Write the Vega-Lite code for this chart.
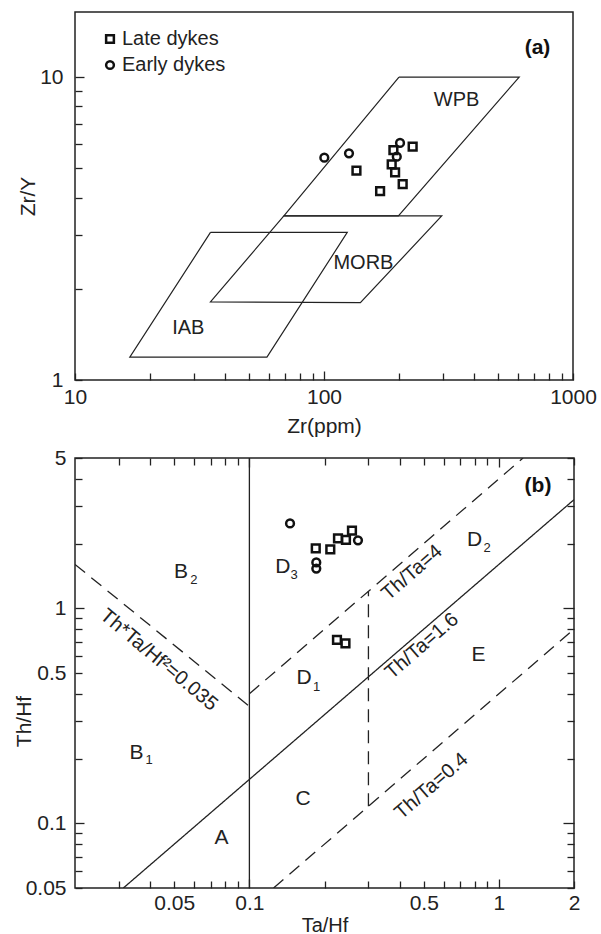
{
  "$schema": "https://vega.github.io/schema/vega-lite/v6.json",
  "background": "white",
  "padding": {"left": 12, "top": 11, "right": 0, "bottom": 0},
  "autosize": {"type": "pad"},
  "spacing": 9,
  "config": {
    "font": "Liberation Sans",
    "view": {"stroke": "#222", "strokeWidth": 1.5},
    "axis": {
      "domain": false,
      "grid": false,
      "tickColor": "#222",
      "tickWidth": 1.3,
      "tickSize": 7,
      "labelFont": "Liberation Sans",
      "labelFontSize": 21,
      "labelColor": "#222",
      "labelPadding": 8,
      "labelOverlap": false,
      "labelFlush": false,
      "titleFont": "Liberation Sans",
      "titleFontSize": 21,
      "titleFontWeight": "normal",
      "titleColor": "#222"
    },
    "text": {"font": "Liberation Sans", "color": "#222"}
  },
  "resolve": {"scale": {"shape": "independent"}, "legend": {"shape": "independent"}},
  "datasets": {
    "fieldsA": [
      {"field": "WPB", "vertex": 1, "Zr": 200, "ZrY": 10},
      {"field": "WPB", "vertex": 2, "Zr": 608, "ZrY": 10},
      {"field": "WPB", "vertex": 3, "Zr": 199, "ZrY": 3.48},
      {"field": "WPB", "vertex": 4, "Zr": 69, "ZrY": 3.48},
      {"field": "WPB", "vertex": 5, "Zr": 200, "ZrY": 10},
      {"field": "MORB", "vertex": 1, "Zr": 69, "ZrY": 3.48},
      {"field": "MORB", "vertex": 2, "Zr": 297, "ZrY": 3.48},
      {"field": "MORB", "vertex": 3, "Zr": 140, "ZrY": 1.8},
      {"field": "MORB", "vertex": 4, "Zr": 35, "ZrY": 1.81},
      {"field": "MORB", "vertex": 5, "Zr": 69, "ZrY": 3.48},
      {"field": "IAB", "vertex": 1, "Zr": 35, "ZrY": 3.07},
      {"field": "IAB", "vertex": 2, "Zr": 124, "ZrY": 3.07},
      {"field": "IAB", "vertex": 3, "Zr": 59, "ZrY": 1.19},
      {"field": "IAB", "vertex": 4, "Zr": 16.6, "ZrY": 1.19},
      {"field": "IAB", "vertex": 5, "Zr": 35, "ZrY": 3.07}
    ],
    "fieldLabelsA": [
      {"label": "WPB", "Zr": 341, "ZrY": 8.42},
      {"label": "MORB", "Zr": 144, "ZrY": 2.44},
      {"label": "IAB", "Zr": 28.5, "ZrY": 1.49}
    ],
    "tagA": [{"label": "(a)", "Zr": 720, "ZrY": 12.5}],
    "pointsA": [
      {"group": "Early dykes", "Zr": 100.3, "ZrY": 5.42},
      {"group": "Early dykes", "Zr": 126, "ZrY": 5.6},
      {"group": "Early dykes", "Zr": 202, "ZrY": 6.06},
      {"group": "Early dykes", "Zr": 196, "ZrY": 5.46},
      {"group": "Late dykes", "Zr": 190, "ZrY": 5.74},
      {"group": "Late dykes", "Zr": 227, "ZrY": 5.89},
      {"group": "Late dykes", "Zr": 135, "ZrY": 4.91},
      {"group": "Late dykes", "Zr": 187, "ZrY": 5.15},
      {"group": "Late dykes", "Zr": 193, "ZrY": 4.85},
      {"group": "Late dykes", "Zr": 207, "ZrY": 4.43},
      {"group": "Late dykes", "Zr": 168, "ZrY": 4.2}
    ],
    "linesB": [
      {"line": "Ta/Hf=0.1", "style": "solid", "vertex": 1, "TaHf": 0.1, "ThHf": 0.05},
      {"line": "Ta/Hf=0.1", "style": "solid", "vertex": 2, "TaHf": 0.1, "ThHf": 5},
      {"line": "Th/Ta=1.6", "style": "solid", "vertex": 1, "TaHf": 0.03125, "ThHf": 0.05},
      {"line": "Th/Ta=1.6", "style": "solid", "vertex": 2, "TaHf": 2, "ThHf": 3.2},
      {"line": "Th/Ta=4", "style": "dashed", "vertex": 1, "TaHf": 0.1, "ThHf": 0.4},
      {"line": "Th/Ta=4", "style": "dashed", "vertex": 2, "TaHf": 1.25, "ThHf": 5},
      {"line": "Th/Ta=0.4", "style": "dashed", "vertex": 1, "TaHf": 0.125, "ThHf": 0.05},
      {"line": "Th/Ta=0.4", "style": "dashed", "vertex": 2, "TaHf": 2, "ThHf": 0.8},
      {"line": "Ta/Hf=0.3", "style": "dashed", "vertex": 1, "TaHf": 0.3, "ThHf": 0.12},
      {"line": "Ta/Hf=0.3", "style": "dashed", "vertex": 2, "TaHf": 0.3, "ThHf": 1.2},
      {"line": "ThTa/Hf2=0.035", "style": "dashed", "vertex": 1, "TaHf": 0.02, "ThHf": 1.6},
      {"line": "ThTa/Hf2=0.035", "style": "dashed", "vertex": 2, "TaHf": 0.1, "ThHf": 0.35}
    ],
    "regionsB": [
      {"label": "B", "TaHf": 0.0532, "ThHf": 1.48},
      {"label": "D", "TaHf": 0.1363, "ThHf": 1.561},
      {"label": "D", "TaHf": 0.799, "ThHf": 2.071},
      {"label": "D", "TaHf": 0.1655, "ThHf": 0.474},
      {"label": "B", "TaHf": 0.0353, "ThHf": 0.213},
      {"label": "E", "TaHf": 0.8275, "ThHf": 0.6063},
      {"label": "C", "TaHf": 0.164, "ThHf": 0.13},
      {"label": "A", "TaHf": 0.0773, "ThHf": 0.0852}
    ],
    "subsB": [
      {"label": "2", "TaHf": 0.0599, "ThHf": 1.35},
      {"label": "3", "TaHf": 0.151, "ThHf": 1.428},
      {"label": "2", "TaHf": 0.896, "ThHf": 1.913},
      {"label": "1", "TaHf": 0.186, "ThHf": 0.4317},
      {"label": "1", "TaHf": 0.0396, "ThHf": 0.197}
    ],
    "ratioLabelsB": [
      {"label": "Th/Ta=4", "TaHf": 0.4484, "ThHf": 1.464},
      {"label": "Th/Ta=1.6", "TaHf": 0.491, "ThHf": 0.668},
      {"label": "Th/Ta=0.4", "TaHf": 0.5364, "ThHf": 0.149}
    ],
    "productLabelB": [
      {"label": "Th*Ta/Hf²=0.035", "TaHf": 0.0434, "ThHf": 0.575}
    ],
    "tagB": [{"label": "(b)", "TaHf": 1.435, "ThHf": 3.706}],
    "pointsB": [
      {"group": "Early dykes", "TaHf": 0.1455, "ThHf": 2.48},
      {"group": "Early dykes", "TaHf": 0.2724, "ThHf": 2.071},
      {"group": "Early dykes", "TaHf": 0.1854, "ThHf": 1.633},
      {"group": "Early dykes", "TaHf": 0.1854, "ThHf": 1.531},
      {"group": "Late dykes", "TaHf": 0.1845, "ThHf": 1.897},
      {"group": "Late dykes", "TaHf": 0.211, "ThHf": 1.88},
      {"group": "Late dykes", "TaHf": 0.2265, "ThHf": 2.116},
      {"group": "Late dykes", "TaHf": 0.2438, "ThHf": 2.078},
      {"group": "Late dykes", "TaHf": 0.2577, "ThHf": 2.298},
      {"group": "Late dykes", "TaHf": 0.2244, "ThHf": 0.712},
      {"group": "Late dykes", "TaHf": 0.2427, "ThHf": 0.687}
    ]
  },
  "vconcat": [
    {
      "width": 498,
      "height": 368,
      "resolve": {"axis": {"x": "independent", "y": "independent"}},
      "layer": [
        {
          "data": {"name": "fieldsA"},
          "mark": {"type": "line", "color": "#222", "strokeWidth": 1.2, "clip": true},
          "encoding": {
            "x": {
              "field": "Zr", "type": "quantitative",
              "scale": {"type": "log", "domain": [10, 1000], "nice": false},
              "axis": {
                "title": "Zr(ppm)",
                "values": [10, 100, 1000],
                "format": "~g",
                "ticks": false,
                "labelPadding": 6,
                "titlePadding": 8
              }
            },
            "y": {
              "field": "ZrY", "type": "quantitative",
              "scale": {"type": "log", "domain": [1, 16.4], "nice": false},
              "axis": {
                "title": "Zr/Y",
                "values": [1, 10],
                "format": "~g",
                "ticks": false,
                "labelPadding": 12,
                "titlePadding": 1
              }
            },
            "detail": {"field": "field"},
            "order": {"field": "vertex", "type": "quantitative"}
          }
        },
        {
          "data": {"name": "fieldLabelsA"},
          "mark": {"type": "text", "fontSize": 20, "align": "center", "baseline": "middle", "color": "#222"},
          "encoding": {
            "x": {
              "field": "Zr", "type": "quantitative",
              "axis": {
                "orient": "top", "offset": -368, "title": null, "labels": false,
                "values": [10, 20, 30, 40, 50, 60, 70, 80, 90, 100, 200, 300, 400, 500, 600, 700, 800, 900, 1000],
                "tickSize": {"condition": {"test": "datum.value == 100", "value": 9}, "value": 7}
              }
            },
            "y": {
              "field": "ZrY", "type": "quantitative",
              "axis": {
                "orient": "right", "offset": -498, "title": null, "labels": false,
                "values": [1, 2, 3, 4, 5, 6, 7, 8, 9, 10],
                "tickSize": {"condition": {"test": "datum.value == 10", "value": 9}, "value": 7}
              }
            },
            "text": {"field": "label"}
          }
        },
        {
          "data": {"name": "tagA"},
          "mark": {"type": "text", "fontSize": 21, "fontWeight": "bold", "align": "center", "baseline": "middle", "color": "#111"},
          "encoding": {
            "x": {"field": "Zr", "type": "quantitative", "axis": null},
            "y": {"field": "ZrY", "type": "quantitative", "axis": null},
            "text": {"field": "label"}
          }
        },
        {
          "data": {"name": "pointsA"},
          "mark": {"type": "point", "filled": false, "color": "#111", "strokeWidth": 2.5, "size": 60, "opacity": 1},
          "encoding": {
            "x": {"field": "Zr", "type": "quantitative", "axis": null},
            "y": {"field": "ZrY", "type": "quantitative", "axis": null},
            "shape": {
              "field": "group", "type": "nominal",
              "scale": {"domain": ["Late dykes", "Early dykes"], "range": ["square", "circle"]},
              "legend": {
                "title": null,
                "orient": "none",
                "legendX": 25,
                "legendY": 17,
                "labelFontSize": 20,
                "labelColor": "#222",
                "labelFont": "Liberation Sans",
                "labelOffset": 2,
                "rowPadding": 6,
                "symbolSize": 60,
                "symbolStrokeWidth": 2.5,
                "symbolStrokeColor": "#111",
                "symbolFillColor": "white",
                "padding": 0
              }
            }
          }
        }
      ]
    },
    {
      "width": 499,
      "height": 430,
      "resolve": {"axis": {"x": "independent", "y": "independent"}},
      "layer": [
        {
          "data": {"name": "linesB"},
          "mark": {"type": "line", "color": "#222", "strokeWidth": 1.3, "clip": true},
          "encoding": {
            "x": {
              "field": "TaHf", "type": "quantitative",
              "scale": {"type": "log", "domain": [0.02, 2], "nice": false},
              "axis": {
                "title": "Ta/Hf",
                "titleFontSize": 20,
                "values": [0.05, 0.1, 0.5, 1, 2],
                "format": "~g",
                "ticks": false,
                "labelPadding": 4,
                "titlePadding": 2
              }
            },
            "y": {
              "field": "ThHf", "type": "quantitative",
              "scale": {"type": "log", "domain": [0.05, 5], "nice": false},
              "axis": {
                "title": "Th/Hf",
                "values": [0.05, 0.1, 0.5, 1, 5],
                "format": "~g",
                "ticks": false,
                "labelPadding": 9,
                "titlePadding": -9,
                "titleY": 263
              }
            },
            "detail": {"field": "line"},
            "order": {"field": "vertex", "type": "quantitative"},
            "strokeDash": {
              "field": "style", "type": "nominal",
              "scale": {"domain": ["solid", "dashed"], "range": [[1, 0], [13, 8]]},
              "legend": null
            }
          }
        },
        {
          "data": {"name": "regionsB"},
          "mark": {"type": "text", "fontSize": 21, "align": "center", "baseline": "middle", "color": "#222"},
          "encoding": {
            "x": {
              "field": "TaHf", "type": "quantitative",
              "axis": {
                "orient": "top", "offset": -430, "title": null, "labels": false,
                "values": [0.03, 0.04, 0.05, 0.06, 0.07, 0.08, 0.09, 0.1, 0.2, 0.3, 0.4, 0.5, 0.6, 0.7, 0.8, 0.9, 1, 2],
                "tickSize": {"condition": {"test": "datum.value == 0.1 || datum.value == 1", "value": 9}, "value": 7}
              }
            },
            "y": {
              "field": "ThHf", "type": "quantitative",
              "axis": {
                "orient": "right", "offset": -499, "title": null, "labels": false,
                "values": [0.05, 0.06, 0.07, 0.08, 0.09, 0.1, 0.2, 0.3, 0.4, 0.5, 0.6, 0.7, 0.8, 0.9, 1, 2, 3, 4, 5],
                "tickSize": {"condition": {"test": "datum.value == 0.1 || datum.value == 1", "value": 9}, "value": 7}
              }
            },
            "text": {"field": "label"}
          }
        },
        {
          "data": {"name": "subsB"},
          "mark": {"type": "text", "fontSize": 13, "align": "center", "baseline": "middle", "color": "#222"},
          "encoding": {
            "x": {
              "field": "TaHf", "type": "quantitative",
              "axis": {
                "orient": "bottom", "offset": -430, "title": null, "labels": false,
                "values": [0.03, 0.04, 0.05, 0.06, 0.07, 0.08, 0.09, 0.1, 0.2, 0.3, 0.4, 0.5, 0.6, 0.7, 0.8, 0.9, 1, 2],
                "tickSize": {"condition": {"test": "datum.value == 0.1 || datum.value == 1", "value": 9}, "value": 7}
              }
            },
            "y": {
              "field": "ThHf", "type": "quantitative",
              "axis": {
                "orient": "left", "offset": -499, "title": null, "labels": false,
                "values": [0.05, 0.06, 0.07, 0.08, 0.09, 0.1, 0.2, 0.3, 0.4, 0.5, 0.6, 0.7, 0.8, 0.9, 1, 2, 3, 4, 5],
                "tickSize": {"condition": {"test": "datum.value == 0.1 || datum.value == 1", "value": 11}, "value": 7}
              }
            },
            "text": {"field": "label"}
          }
        },
        {
          "data": {"name": "ratioLabelsB"},
          "mark": {"type": "text", "fontSize": 20, "angle": -41, "align": "center", "baseline": "middle", "color": "#222"},
          "encoding": {
            "x": {"field": "TaHf", "type": "quantitative", "axis": null},
            "y": {"field": "ThHf", "type": "quantitative", "axis": null},
            "text": {"field": "label"}
          }
        },
        {
          "data": {"name": "productLabelB"},
          "mark": {"type": "text", "fontSize": 20, "angle": 40, "align": "center", "baseline": "middle", "color": "#222"},
          "encoding": {
            "x": {"field": "TaHf", "type": "quantitative", "axis": null},
            "y": {"field": "ThHf", "type": "quantitative", "axis": null},
            "text": {"field": "label"}
          }
        },
        {
          "data": {"name": "tagB"},
          "mark": {"type": "text", "fontSize": 21, "fontWeight": "bold", "align": "center", "baseline": "middle", "color": "#111"},
          "encoding": {
            "x": {"field": "TaHf", "type": "quantitative", "axis": null},
            "y": {"field": "ThHf", "type": "quantitative", "axis": null},
            "text": {"field": "label"}
          }
        },
        {
          "data": {"name": "pointsB"},
          "mark": {"type": "point", "filled": false, "color": "#111", "strokeWidth": 2.5, "size": 60, "opacity": 1},
          "encoding": {
            "x": {"field": "TaHf", "type": "quantitative", "axis": null},
            "y": {"field": "ThHf", "type": "quantitative", "axis": null},
            "shape": {
              "field": "group", "type": "nominal",
              "scale": {"domain": ["Late dykes", "Early dykes"], "range": ["square", "circle"]},
              "legend": null
            }
          }
        }
      ]
    }
  ]
}
